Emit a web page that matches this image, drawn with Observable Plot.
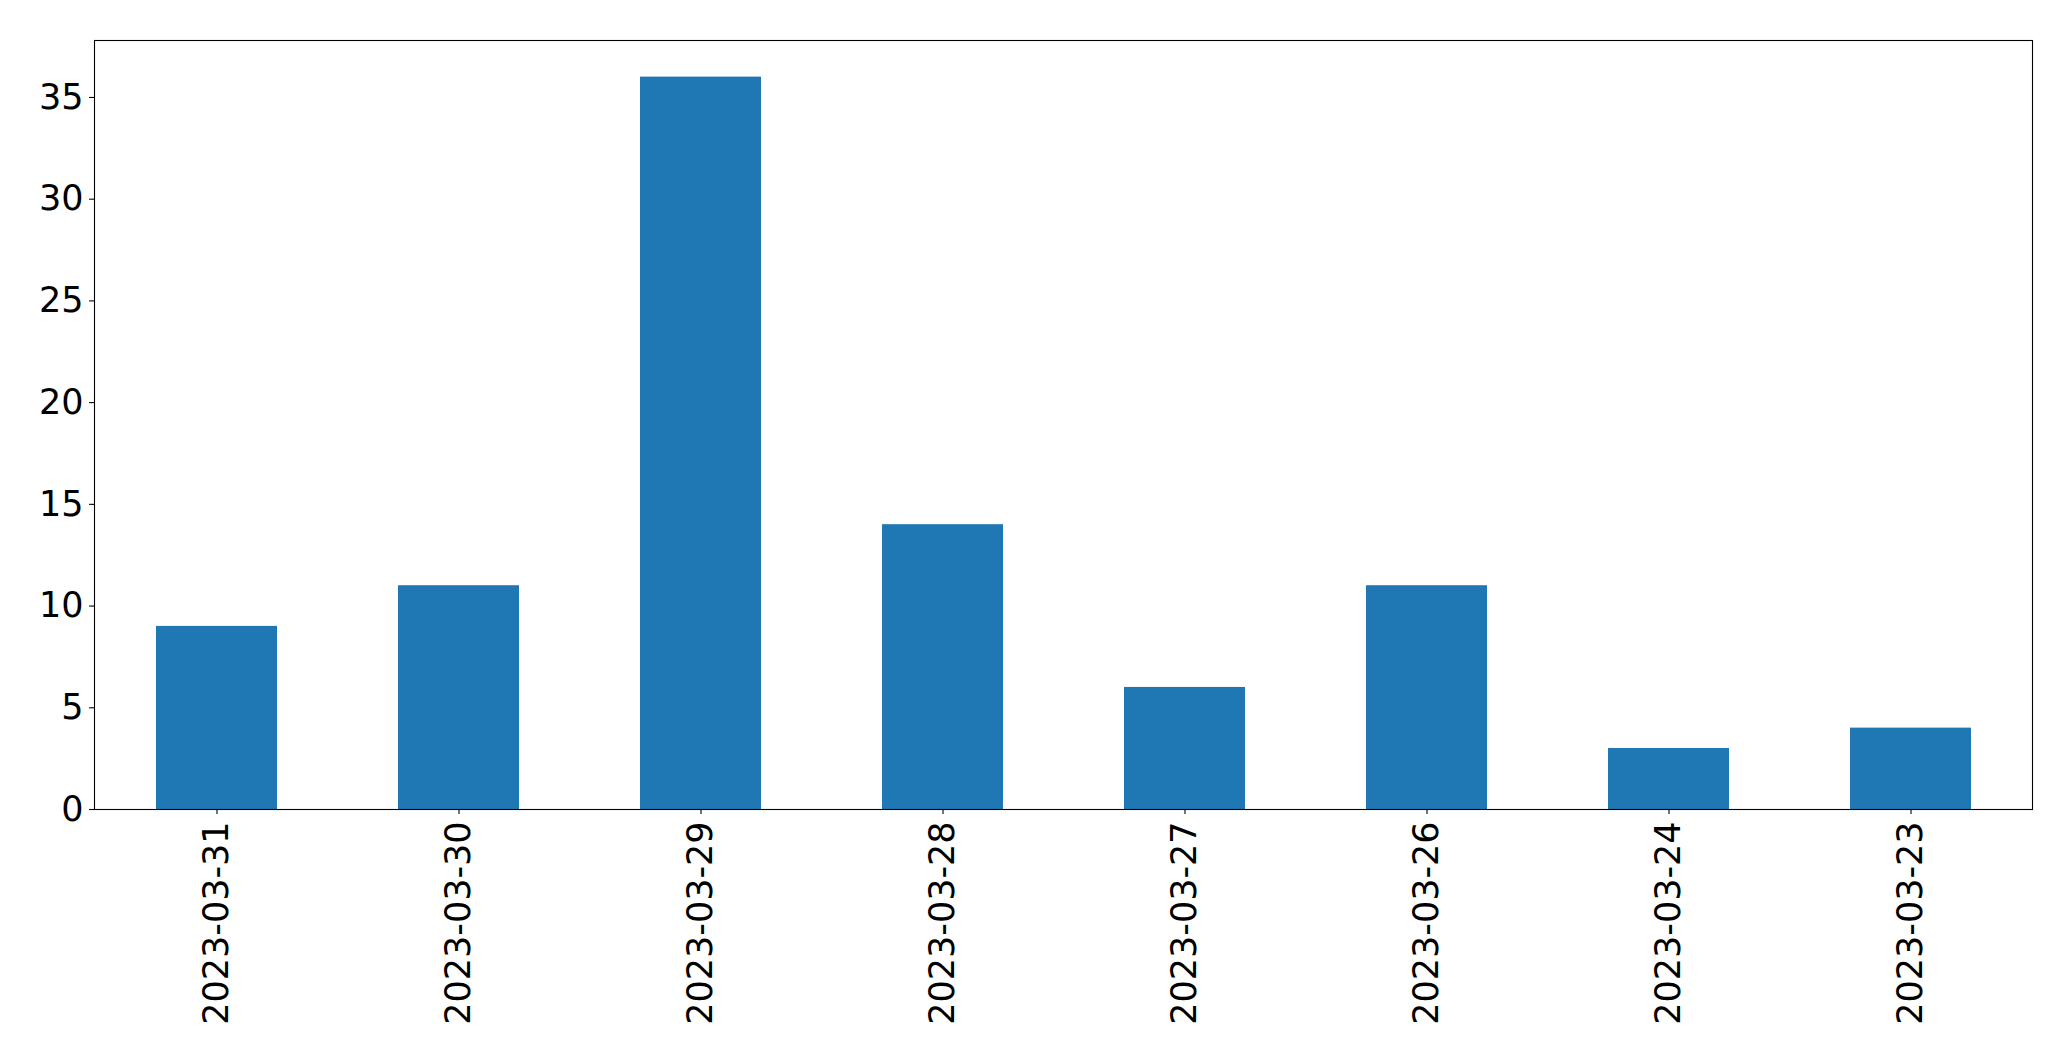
<!DOCTYPE html>
<html>
<head>
<meta charset="utf-8">
<script src="https://cdn.jsdelivr.net/npm/d3@7"></script>
<script src="https://cdn.jsdelivr.net/npm/@observablehq/plot@0.6"></script>
<style>
  html, body { margin: 0; padding: 0; background: #fff; overflow: hidden; }
  #chart svg { display: block; }
</style>
</head>
<body>
<div id="chart"></div>
<script>
const dates = ["2023-03-31", "2023-03-30", "2023-03-29", "2023-03-28", "2023-03-27", "2023-03-26", "2023-03-24", "2023-03-23"];
const counts = [9, 11, 36, 14, 6, 11, 3, 4];
const yTicks = [0, 5, 10, 15, 20, 25, 30, 35];

const data = dates.map((d, i) => ({date: d, count: counts[i]}));

const chart = Plot.plot({
  width: 2071,
  height: 1061,
  marginLeft: 94,
  marginRight: 39,
  marginTop: 40,
  marginBottom: 252,
  style: {fontFamily: "DejaVu Sans", fontSize: "35px", background: "#fff", color: "#000"},
  x: {domain: dates, paddingInner: 0.5, paddingOuter: 0.25, align: 0.5, label: null},
  y: {domain: [0, 37.8], label: null},
  marks: [
    Plot.barY(data, {x: "date", y: "count", fill: "#1f77b4"}),
    Plot.frame({stroke: "#000", strokeWidth: 1.1}),
    Plot.axisY({ticks: yTicks, tickSize: 4.9, tickPadding: 6, tickFormat: d => String(d), fontSize: 35, label: null, stroke: "#000", strokeWidth: 1.1}),
    Plot.axisX({tickSize: 4.9, tickPadding: 7, tickRotate: -90, fontSize: 35, label: null, stroke: "#000", strokeWidth: 1.1})
  ]
});
document.getElementById("chart").appendChild(chart);
</script>
</body>
</html>
